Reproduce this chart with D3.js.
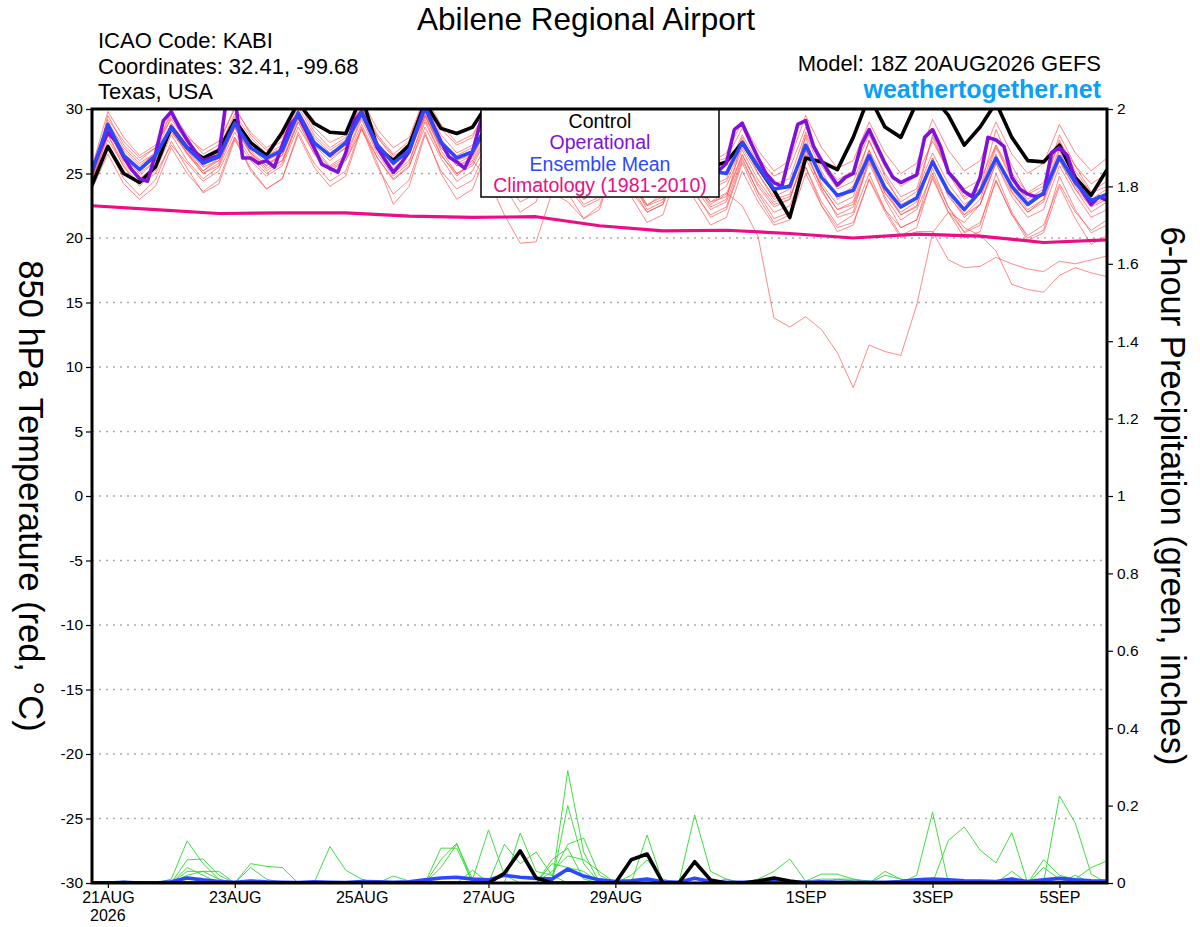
<!DOCTYPE html>
<html>
<head>
<meta charset="utf-8">
<script src="https://cdn.jsdelivr.net/npm/d3@7"></script>
<style>
  body { margin: 0; background: #fff; }
  svg text { font-family: "Liberation Sans", Arial, Helvetica, sans-serif; }
</style>
</head>
<body>
<div id="chart"></div>
<script>
// 6-hourly steps from 18Z 20AUG2026 to 18Z 05SEP2026 (65 values)
// layout of each array: first value (18Z 20AUG), then one group of 4 per day (00Z 06Z 12Z 18Z)
var ctrlTemp = [24.1,
  27.1,25.0,24.3,25.5, 28.6,27.0,26.2,26.8, 29.1,27.4,26.4,28.2, 30.5,28.9,28.2,28.1,
  31.0,27.0,26.0,27.2, 30.5,28.5,28.1,28.6, 30.5,28.5,27.5,28.0, 30.5,28.2,26.8,27.0,
  29.5,27.8,26.5,26.0, 28.5,26.8,25.5,25.9, 27.4,25.5,23.7,21.6, 26.2,25.9,25.3,27.8,
  31.0,28.6,27.8,30.5, 31.0,29.5,27.2,28.6, 30.5,27.8,26.0,25.9, 27.2,24.7,23.3,25.3];

var meanTemp = [25.1,
  28.8,26.4,25.3,26.4, 28.6,27.0,25.8,26.3, 28.9,27.0,26.2,26.8, 29.7,27.4,26.4,27.4,
  29.7,27.2,25.8,26.8, 30.1,27.4,26.2,26.7, 29.0,27.0,26.0,26.5, 28.8,26.8,25.6,26.0,
  28.3,26.5,25.4,25.8, 28.0,26.4,25.2,25.0, 27.4,25.5,23.8,24.0, 27.2,24.7,23.3,23.7,
  26.4,23.9,22.4,23.1, 25.9,23.6,22.2,23.6, 26.2,24.0,22.6,23.5, 26.3,24.3,22.9,23.4];

// operational run is 3-hourly (129 values): 18Z, 21Z 20AUG, then 8 per day
var opTemp = [25.3, 26.8,
  28.2,27.5,26.3,25.3,24.6,24.4,26.5,29.1,
  29.8,28.6,27.6,26.7,26.0,26.2,26.4,31.0,
  31.0,26.2,26.2,25.8,26.0,25.5,27.2,28.8,
  29.5,28.3,27.0,25.7,25.4,25.1,26.6,29.0,
  29.8,28.4,27.0,26.0,25.1,25.8,26.7,28.5,
  30.3,28.8,27.5,26.3,25.9,25.4,26.7,29.0,
  30.5,29.0,27.5,26.5,26.0,26.2,27.0,28.8,
  30.0,28.5,27.0,26.2,25.8,26.0,26.8,28.5,
  29.8,28.0,26.8,25.8,25.2,25.5,26.5,28.2,
  29.5,27.8,26.5,25.5,25.0,25.2,25.8,28.4,
  28.9,27.5,26.2,25.0,24.3,24.0,26.5,28.8,
  29.1,27.1,26.0,25.0,24.1,24.7,25.0,27.2,
  28.4,27.1,25.8,24.7,24.3,24.6,24.9,27.8,
  28.4,27.1,25.1,24.4,23.6,23.2,24.7,27.8,
  27.6,27.1,24.7,23.8,23.4,23.2,23.4,26.6,
  27.0,26.4,24.5,23.5,22.6,23.2,22.9];

// climatology, one value per day at 18Z
var climTemp = [22.5, 22.2, 21.9, 21.95, 21.95, 21.7, 21.6, 21.65, 20.95,
  20.55, 20.6, 20.35, 20.0, 20.3, 20.15, 19.65, 19.85];

var memberTemp = [
  [24.5, 29.5,27.2,26.0,27.0, 29.8,28.0,26.5,27.2, 30.2,28.0,26.8,27.5, 30.5,28.3,27.0,27.8,
   30.4,28.0,26.5,27.5, 30.8,28.5,27.2,27.8, 30.5,28.2,26.8,27.4, 30.0,27.8,26.5,27.0,
   29.5,27.5,26.0,26.5, 29.0,27.0,25.8,26.2, 28.5,26.2,24.8,25.4, 28.6,26.0,24.5,25.2,
   28.0,25.5,24.0,24.8, 27.5,25.2,23.8,24.5, 27.2,25.0,23.5,24.3, 27.4,25.6,24.2,25.0],
  [24.8, 28.5,26.0,24.8,26.0, 28.2,26.8,25.5,26.0, 28.5,26.6,25.6,26.4, 29.4,27.2,26.0,27.0,
   29.5,27.0,25.4,26.5, 29.8,27.0,25.8,26.4, 29.0,26.5,25.0,25.6, 28.5,26.2,24.6,25.2,
   28.0,25.8,24.2,24.8, 27.8,25.5,23.8,24.4, 27.0,25.0,23.2,23.8, 27.8,24.2,22.6,23.2,
   26.8,23.5,22.0,22.8, 26.2,23.2,21.8,23.0, 26.5,23.6,22.0,23.0, 26.8,24.0,22.5,23.2],
  [24.0, 27.0,24.6,23.3,24.5, 27.5,25.4,23.5,24.2, 27.6,25.4,23.8,24.6, 28.2,25.8,24.4,25.2,
   28.6,25.8,22.6,24.0, 28.0,25.2,23.8,24.5, 27.2,24.6,22.8,23.4, 26.8,24.0,22.4,23.0,
   26.2,23.6,22.0,22.6, 25.8,23.4,21.8,22.4, 26.0,23.6,22.0,22.5, 25.5,22.8,21.0,21.8,
   25.0,22.2,20.8,21.4, 24.6,22.0,20.5,21.2, 24.4,21.8,20.2,21.0, 24.2,22.0,20.6,21.4],
  [25.0, 28.8,26.5,25.2,26.2, 28.9,27.2,25.6,26.4, 29.0,27.0,26.0,26.6, 29.5,27.5,26.3,27.2,
   29.8,27.4,25.6,26.8, 30.0,27.4,26.0,26.5, 28.5,26.0,24.5,25.0, 28.0,25.5,23.8,24.4,
   27.5,25.0,23.2,23.8, 27.0,24.5,22.8,23.5, 22.5,20.1,13.8,13.1, 13.9,12.9,11.1,8.4,
   11.7,11.2,10.9,14.8, 20.4,22.0,21.2,22.6, 25.8,23.5,22.0,22.8, 26.0,23.8,22.4,23.0],
  [24.3, 28.0,25.8,24.5,25.6, 28.4,26.5,25.0,25.8, 28.6,26.5,25.2,26.0, 29.0,26.8,25.5,26.2,
   29.2,26.5,24.8,25.8, 29.5,26.8,25.0,25.8, 28.2,25.5,23.8,24.5, 27.6,25.0,23.0,23.8,
   27.0,24.5,22.6,23.2, 26.5,24.0,22.2,22.8, 26.2,23.5,21.5,22.0, 25.5,22.5,20.8,21.2,
   24.5,22.0,20.0,20.5, 20.5,18.3,17.7,17.8, 18.5,18.0,17.6,17.4, 18.2,18.0,18.3,18.6],
  [24.6, 28.2,26.2,25.0,26.0, 28.8,26.8,25.2,26.2, 29.0,27.0,25.8,26.4, 29.6,27.5,26.2,27.0,
   29.5,27.2,25.8,26.6, 29.5,27.2,25.6,26.2, 28.8,26.5,24.8,25.4, 28.2,25.8,24.0,24.6,
   27.8,25.4,23.6,24.2, 27.2,25.0,23.2,24.0, 26.8,24.5,22.8,23.2, 26.2,23.6,21.8,22.4,
   25.8,23.2,21.4,22.2, 25.0,22.4,20.8,20.2, 19.0,16.4,16.0,15.8, 17.1,17.7,17.3,17.0],
  [25.2, 29.0,27.0,25.8,26.6, 29.4,27.6,26.2,27.0, 29.6,27.8,26.5,27.2, 30.2,28.0,26.8,27.6,
   30.0,27.8,26.2,27.2, 30.5,28.0,26.6,27.2, 29.6,27.2,25.8,26.4, 29.2,26.8,25.2,25.8,
   28.8,26.4,24.8,25.4, 28.4,26.2,24.6,25.2, 28.0,25.8,24.2,24.6, 28.2,25.6,23.8,24.4,
   27.5,25.0,23.2,23.8, 27.8,25.0,23.0,23.8, 27.2,24.6,22.8,23.6, 27.0,24.8,23.0,23.8],
  [23.8, 26.5,24.2,23.0,24.0, 27.0,25.0,23.6,24.5, 27.8,25.2,23.8,24.6, 28.0,25.5,24.0,24.8,
   28.5,25.5,23.4,24.5, 28.2,25.0,23.0,23.8, 27.0,24.0,22.0,22.8, 26.5,23.5,21.5,22.2,
   26.0,23.2,21.2,21.8, 25.5,23.0,21.0,21.6, 25.2,22.8,21.0,21.4, 25.0,22.5,20.5,21.0,
   24.6,22.2,20.2,20.8, 24.8,22.0,20.0,20.5, 24.5,21.8,19.8,20.4, 24.0,21.5,19.5,20.2],
  [24.9, 29.2,27.5,26.2,27.0, 29.6,27.8,26.8,27.5, 30.0,28.2,27.0,27.8, 30.6,28.6,27.4,28.0,
   30.8,28.4,27.0,27.8, 31.0,28.8,27.4,28.0, 30.2,28.0,26.8,27.5, 29.8,27.6,26.2,27.0,
   29.5,27.2,26.0,26.8, 29.4,27.2,25.8,26.6, 29.0,26.8,25.2,26.0, 29.5,27.0,25.4,26.0,
   29.0,26.6,25.0,25.8, 29.2,26.8,25.2,26.0, 29.0,26.5,25.0,25.8, 28.8,26.6,25.2,26.2],
  [24.2, 28.0,25.5,24.0,25.2, 28.0,26.0,24.6,25.5, 28.2,26.2,25.0,25.8, 29.0,26.5,25.2,26.0,
   28.8,26.2,24.5,25.5, 29.0,26.4,25.0,25.6, 28.0,25.4,23.8,24.5, 27.5,24.8,23.0,23.8,
   27.0,24.5,22.5,23.5, 26.6,24.2,22.6,23.4, 26.5,24.0,22.4,23.0, 26.8,24.0,22.2,22.8,
   26.5,23.8,21.8,22.5, 26.0,23.4,21.6,22.6, 26.2,23.8,22.2,23.0, 26.0,23.8,22.0,22.8],
  [25.5, 29.8,27.8,26.4,27.2, 29.2,27.4,26.0,26.8, 29.4,27.5,26.4,27.0, 29.9,27.8,26.6,27.4,
   30.2,27.8,26.4,27.0, 29.6,27.6,26.4,27.0, 29.0,26.8,25.4,26.0, 28.6,26.4,24.8,25.6,
   28.2,26.0,24.4,25.0, 27.6,25.6,24.0,24.6, 27.8,25.4,23.6,24.2, 27.0,24.8,23.2,24.0,
   26.8,24.5,22.8,23.6, 26.6,24.2,22.6,23.4, 27.0,24.5,23.0,23.8, 27.6,25.2,23.5,24.0],
  [24.4, 28.4,26.0,24.6,25.6, 28.5,26.6,25.0,25.6, 28.8,26.6,25.4,26.0, 29.2,27.0,25.6,26.4,
   29.4,26.8,25.0,26.0, 29.2,26.5,24.8,26.0, 24.5,21.8,19.6,19.7, 23.5,22.8,21.5,22.5,
   26.0,24.0,22.5,23.0, 26.2,24.2,22.8,23.2, 26.4,24.2,22.6,23.0, 26.5,24.0,22.2,22.6,
   26.0,23.5,21.8,22.4, 26.2,23.6,21.8,22.6, 25.8,23.2,21.6,22.2, 25.6,23.4,21.6,22.2],
  [24.7, 28.6,26.8,25.6,26.6, 28.2,26.6,25.2,26.0, 28.6,26.8,25.6,26.6, 29.8,27.6,26.4,27.2,
   29.6,27.4,26.0,26.8, 29.4,27.0,25.6,26.0, 28.4,25.8,24.2,24.8, 28.0,25.5,23.6,24.0,
   27.4,24.6,22.2,22.8, 27.0,24.4,22.4,23.0, 27.6,25.0,23.0,23.4, 28.0,25.2,23.0,23.8,
   27.6,24.8,22.6,23.2, 28.0,25.2,23.2,23.8, 28.4,25.6,23.4,24.0, 28.0,25.6,23.6,24.4],
  [24.0, 27.6,25.6,24.2,25.0, 27.2,25.8,24.4,25.2, 27.8,26.0,24.8,25.6, 28.6,26.6,25.4,26.0,
   28.4,26.2,24.6,25.6, 28.6,26.2,24.4,25.2, 27.6,25.0,23.4,24.0, 27.0,24.4,22.6,23.2,
   26.6,24.0,22.0,22.6, 26.0,23.6,21.6,22.2, 25.8,23.2,21.2,21.8, 26.8,23.8,21.6,22.0,
   26.2,23.0,20.8,21.4, 25.4,22.4,20.4,21.0, 25.0,22.0,20.0,20.6, 24.8,22.2,20.4,21.0]
];

// 6-hour precipitation (inches)
var ctrlPrecip = [0,
  0,0,0,0, 0,0,0,0, 0,0,0,0, 0,0,0,0,
  0,0,0,0, 0,0,0,0, 0,0.025,0.083,0.013, 0,0,0,0,
  0,0.06,0.075,0, 0,0.055,0.008,0, 0,0.005,0.013,0.005, 0,0,0,0,
  0,0,0,0, 0,0,0,0, 0,0,0,0, 0,0,0,0];

var meanPrecip = [0,
  0,0.002,0,0, 0.003,0.013,0.008,0.004, 0.002,0.005,0.003,0.002, 0.001,0.003,0.002,0.001,
  0.004,0.003,0.002,0.003, 0.008,0.013,0.015,0.01, 0.008,0.02,0.015,0.012, 0.01,0.036,0.018,0.008,
  0.004,0.006,0.01,0.003, 0.002,0.012,0.004,0.002, 0.002,0.002,0.003,0.002, 0.002,0.003,0.002,0.002,
  0.002,0.002,0.004,0.008, 0.01,0.008,0.006,0.005, 0.004,0.01,0.004,0.008, 0.012,0.008,0.006,0.005];

var memberPrecip = [
  [0, 0,0,0,0, 0.01,0.109,0.05,0.01, 0,0,0,0, 0,0,0.094,0.033,
   0.01,0,0,0, 0,0,0,0, 0,0,0,0, 0,0.29,0.08,0,
   0,0,0,0, 0,0,0,0, 0,0,0,0, 0,0,0,0,
   0,0,0,0.02, 0.183,0,0,0, 0,0,0,0, 0,0,0,0],
  [0, 0,0,0,0, 0,0.06,0.062,0.02, 0,0.05,0.043,0.04, 0,0,0,0,
   0,0,0,0, 0,0.09,0.09,0, 0,0,0,0, 0,0.2,0.05,0,
   0,0,0,0, 0,0,0,0, 0,0,0,0, 0,0,0,0,
   0,0,0,0, 0,0.11,0.145,0.085, 0.052,0.13,0,0, 0,0,0,0],
  [0, 0,0,0,0, 0,0.03,0.03,0.03, 0,0.04,0.01,0, 0,0,0,0,
   0,0,0,0, 0,0.04,0.1,0.01, 0.137,0.02,0,0, 0,0,0,0,
   0,0,0.124,0, 0,0,0,0, 0,0,0,0, 0,0,0,0,
   0,0,0,0, 0,0,0,0, 0,0,0,0, 0.225,0.155,0.023,0],
  [0, 0,0,0,0, 0,0.04,0.02,0, 0,0,0,0, 0,0,0,0,
   0,0,0.018,0.005, 0,0,0,0, 0,0.1,0.05,0.08, 0.02,0,0,0,
   0,0,0,0, 0,0.176,0.03,0.01, 0,0,0,0, 0,0,0,0,
   0,0.03,0.01,0, 0,0,0,0, 0,0,0,0, 0,0,0,0],
  [0, 0,0,0,0, 0,0,0,0, 0,0,0,0, 0,0,0,0,
   0,0,0,0, 0,0,0,0, 0,0,0.129,0.03, 0.02,0.1,0.116,0.02,
   0,0,0,0, 0,0,0,0.01, 0,0.01,0.03,0.062, 0.005,0.01,0.01,0.005,
   0,0,0,0, 0,0,0,0, 0,0,0,0, 0,0,0,0],
  [0, 0,0.005,0,0, 0,0,0,0, 0,0,0,0, 0,0,0,0,
   0,0,0,0, 0,0,0,0.033, 0,0,0,0, 0.03,0.07,0.06,0.03,
   0,0,0,0, 0,0,0,0, 0,0,0,0, 0,0,0.01,0.01,
   0,0.02,0.01,0.005, 0,0,0,0, 0,0,0,0.06, 0.02,0.01,0.04,0.057],
  [0, 0,0,0,0, 0,0.02,0.03,0.01, 0,0,0,0, 0,0,0,0,
   0,0,0,0, 0,0,0,0, 0,0,0,0, 0.05,0.04,0.03,0,
   0,0,0,0, 0,0,0,0, 0,0,0,0, 0.005,0.023,0.023,0.01,
   0.005,0,0,0, 0,0,0,0, 0,0.03,0,0.04, 0.01,0,0,0],
  [0, 0,0,0,0, 0.005,0.015,0,0, 0,0,0,0, 0,0,0,0,
   0,0,0,0, 0,0.06,0.103,0, 0,0,0,0, 0.06,0.09,0.01,0,
   0,0.02,0.06,0.01, 0,0,0,0, 0,0,0,0, 0,0,0,0,
   0,0,0,0, 0,0,0,0, 0,0,0,0, 0,0.02,0,0]
];

var tempTicks = [30, 25, 20, 15, 10, 5, 0, -5, -10, -15, -20, -25, -30];
var precipTicks = [0, 0.2, 0.4, 0.6, 0.8, 1, 1.2, 1.4, 1.6, 1.8, 2];
var dateTicks = ["2026-08-21", "2026-08-23", "2026-08-25", "2026-08-27", "2026-08-29", "2026-09-01", "2026-09-03", "2026-09-05"];
var dateLabels = ["21AUG", "23AUG", "25AUG", "27AUG", "29AUG", "1SEP", "3SEP", "5SEP"];

var legendItems = [
  { name: "Control", color: "#000000" },
  { name: "Operational", color: "#8010dc" },
  { name: "Ensemble Mean", color: "#2c48ff" },
  { name: "Climatology (1981-2010)", color: "#ee0c84" }
];

// ------------------------------------------------------------------
var width = 1200, height = 927;
var plot = { left: 92, right: 1107, top: 109, bottom: 883 };
var HOUR = 3600 * 1000;
var t0 = Date.UTC(2026, 7, 20, 18);

function stepTimes(n, hours) {
  return d3.range(n).map(function(i) { return new Date(t0 + i * hours * HOUR); });
}
var times6 = stepTimes(ctrlTemp.length, 6);
var times3 = stepTimes(opTemp.length, 3);
var times24 = stepTimes(climTemp.length, 24);

var svg = d3.select("#chart").append("svg")
    .attr("width", width)
    .attr("height", height);

var x = d3.scaleUtc()
    .domain([new Date(t0), new Date(t0 + 64 * 6 * HOUR)])
    .range([plot.left, plot.right]);
var yT = d3.scaleLinear().domain([-30, 30]).range([plot.bottom, plot.top]);
var yP = d3.scaleLinear().domain([0, 2]).range([plot.bottom, plot.top]);

svg.append("clipPath").attr("id", "clip")
  .append("rect")
    .attr("x", plot.left).attr("y", plot.top)
    .attr("width", plot.right - plot.left).attr("height", plot.bottom - plot.top);

// dotted grid on temperature values
svg.append("g").selectAll("line")
    .data(tempTicks.filter(function(v) { return Math.abs(v) < 30; }))
  .enter().append("line")
    .attr("x1", plot.left).attr("x2", plot.right)
    .attr("y1", function(d) { return yT(d); })
    .attr("y2", function(d) { return yT(d); })
    .attr("stroke", "#aaaaaa")
    .attr("stroke-width", 1.3)
    .attr("stroke-dasharray", "2,5");

var lines = svg.append("g").attr("clip-path", "url(#clip)");

function lineOf(times, y) {
  return d3.line()
    .x(function(d, i) { return x(times[i]); })
    .y(function(d) { return y(d); });
}

// ensemble members
lines.selectAll(".mem").data(memberTemp).enter().append("path")
    .attr("d", lineOf(times6, yT))
    .attr("fill", "none")
    .attr("stroke", "#ff4545")
    .attr("stroke-opacity", 0.7)
    .attr("stroke-width", 0.9);

lines.selectAll(".pmem").data(memberPrecip).enter().append("path")
    .attr("d", lineOf(times6, yP))
    .attr("fill", "none")
    .attr("stroke", "#2ed82e")
    .attr("stroke-width", 0.9);

function thick(data, times, y, color, w) {
  lines.append("path")
    .datum(data)
    .attr("d", lineOf(times, y))
    .attr("fill", "none")
    .attr("stroke", color)
    .attr("stroke-width", w)
    .attr("stroke-linejoin", "round");
}
thick(climTemp, times24, yT, "#ee0c84", 3.2);
thick(ctrlTemp, times6, yT, "#000000", 3.6);
thick(opTemp, times3, yT, "#8010dc", 3.6);
thick(meanTemp, times6, yT, "#2c48ff", 3.6);
thick(meanPrecip, times6, yP, "#2c48ff", 3.6);
thick(ctrlPrecip, times6, yP, "#000000", 3.6);

// legend
var lg = svg.append("g");
lg.append("rect")
    .attr("x", 481).attr("y", plot.top)
    .attr("width", 238).attr("height", 88)
    .attr("fill", "#fff").attr("stroke", "#000").attr("stroke-width", 1.5);
lg.selectAll("text").data(legendItems).enter().append("text")
    .attr("x", 600)
    .attr("y", function(d, i) { return 128 + i * 21.3; })
    .attr("text-anchor", "middle")
    .attr("font-size", 19.5)
    .attr("fill", function(d) { return d.color; })
    .text(function(d) { return d.name; });

// axes
var left = svg.append("g")
    .attr("transform", "translate(" + plot.left + ",0)")
    .call(d3.axisLeft(yT).tickValues(tempTicks).tickSize(6).tickPadding(3)
      .tickFormat(function(d) { return String(d); }));
var right = svg.append("g")
    .attr("transform", "translate(" + plot.right + ",0)")
    .call(d3.axisRight(yP).tickValues(precipTicks).tickSize(6).tickPadding(4)
      .tickFormat(function(d) { return String(+d.toFixed(1)); }));
var bottom = svg.append("g")
    .attr("transform", "translate(0," + plot.bottom + ")")
    .call(d3.axisBottom(x)
      .tickValues(dateTicks.map(function(s) { return new Date(s + "T00:00:00Z"); }))
      .tickFormat(function(d, i) { return dateLabels[i]; })
      .tickSize(5).tickPadding(4));

[left, right, bottom].forEach(function(g) {
  g.select(".domain").remove();
  g.selectAll(".tick line").attr("stroke", "#000").attr("stroke-width", 1.2);
  g.selectAll(".tick text").attr("fill", "#000").attr("font-size", 15.5)
    .attr("font-family", "Liberation Sans, Arial, sans-serif");
});
bottom.selectAll(".tick text").attr("font-size", 16);

svg.append("text")
    .attr("x", x(new Date(dateTicks[0] + "T00:00:00Z")))
    .attr("y", 921)
    .attr("text-anchor", "middle")
    .attr("font-size", 16)
    .text("2026");

// frame
svg.append("rect")
    .attr("x", plot.left).attr("y", plot.top)
    .attr("width", plot.right - plot.left).attr("height", plot.bottom - plot.top)
    .attr("fill", "none").attr("stroke", "#000").attr("stroke-width", 3);

// titles
svg.append("text").attr("x", 586).attr("y", 30).attr("text-anchor", "middle")
    .attr("font-size", 31.5).text("Abilene Regional Airport");

var info = ["ICAO Code: KABI", "Coordinates: 32.41, -99.68", "Texas, USA"];
svg.selectAll(".info").data(info).enter().append("text")
    .attr("x", 98)
    .attr("y", function(d, i) { return 48 + i * 25.5; })
    .attr("font-size", 22)
    .text(function(d) { return d; });

svg.append("text").attr("x", 1101).attr("y", 71).attr("text-anchor", "end")
    .attr("font-size", 22).text("Model: 18Z 20AUG2026 GEFS");
svg.append("text").attr("x", 1101).attr("y", 98).attr("text-anchor", "end")
    .attr("font-size", 25).attr("font-weight", "bold").attr("fill", "#0aa0f8")
    .text("weathertogether.net");

// axis titles, rotated clockwise
svg.append("text")
    .attr("transform", "translate(19," + ((plot.top + plot.bottom) / 2) + ") rotate(90)")
    .attr("text-anchor", "middle")
    .attr("font-size", 34.5)
    .text("850 hPa Temperature (red, \u00B0C)");
svg.append("text")
    .attr("transform", "translate(1161," + ((plot.top + plot.bottom) / 2) + ") rotate(90)")
    .attr("text-anchor", "middle")
    .attr("font-size", 34.5)
    .text("6-hour Precipitation (green, inches)");
</script>
</body>
</html>
